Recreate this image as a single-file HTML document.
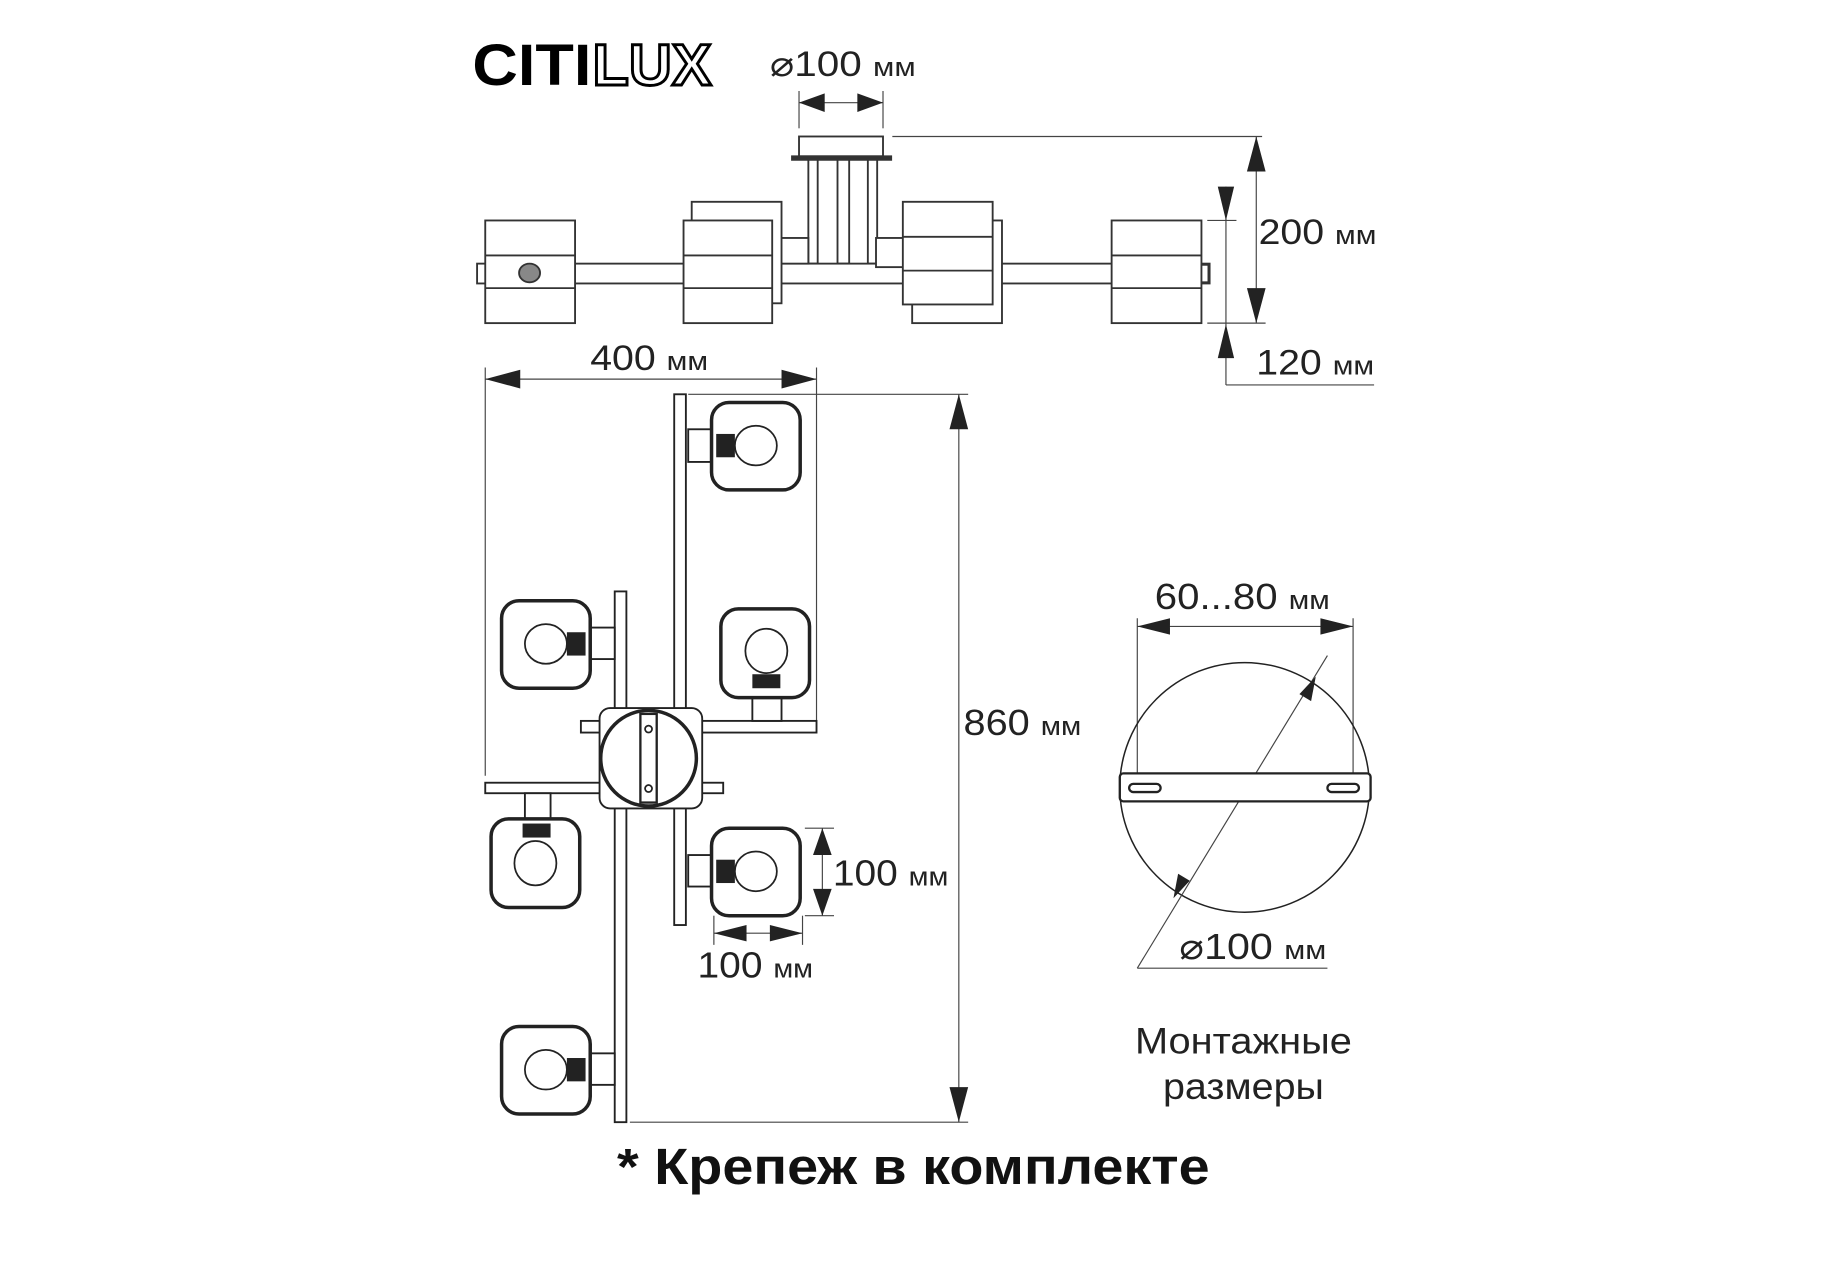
<!DOCTYPE html>
<html><head><meta charset="utf-8"><style>
html,body{margin:0;padding:0;background:#fff;}
svg{display:block;}
text{font-family:"Liberation Sans",sans-serif;fill:#222;}
</style></head><body>
<svg width="1829" height="1280" viewBox="0 0 1568 1097.3" preserveAspectRatio="none" xmlns="http://www.w3.org/2000/svg">
<!-- Logo -->
<text x="405" y="73" font-size="50" font-weight="bold" style="fill:#000" textLength="102" lengthAdjust="spacingAndGlyphs">CITI</text>
<text x="508" y="73" font-size="50" font-weight="bold" style="fill:#fff;stroke:#000;stroke-width:2.5" textLength="102" lengthAdjust="spacingAndGlyphs">LUX</text>

<!-- top dim 100 -->
<text x="660" y="65" font-size="30" textLength="125" lengthAdjust="spacingAndGlyphs">⌀100 <tspan font-size="23">мм</tspan></text>
<g stroke="#444" stroke-width="1" fill="none">
<line x1="685" y1="78" x2="685" y2="110"/><line x1="757" y1="78" x2="757" y2="110"/>
<line x1="685" y1="88" x2="757" y2="88"/>
</g>
<polygon points="685,88 707,80 707,96" fill="#222"/><polygon points="757,88 735,80 735,96" fill="#222"/>

<!-- side view -->
<g stroke="#333" stroke-width="1.6" fill="#fff">
<rect x="685" y="117" width="72" height="17"/>
<rect x="679" y="134" width="85" height="3" fill="#333"/>
<rect x="693" y="137" width="8" height="89"/><rect x="744" y="137" width="8" height="89"/>
<rect x="718" y="137" width="10" height="89"/>
<rect x="409" y="226" width="628" height="17"/>
<rect x="662" y="204" width="31" height="22"/><rect x="751" y="204" width="24" height="25"/>
<rect x="593" y="173" width="77" height="87"/>
<rect x="782" y="189" width="77" height="88"/>
<rect x="416" y="189" width="77" height="88"/><line x1="416" y1="219" x2="493" y2="219"/><line x1="416" y1="247" x2="493" y2="247"/>
<rect x="586" y="189" width="76" height="88"/><line x1="586" y1="219" x2="662" y2="219"/><line x1="586" y1="247" x2="662" y2="247"/>
<rect x="774" y="173" width="77" height="88"/><line x1="774" y1="203" x2="851" y2="203"/><line x1="774" y1="232" x2="851" y2="232"/>
<rect x="953" y="189" width="77" height="88"/><line x1="953" y1="219" x2="1030" y2="219"/><line x1="953" y1="247" x2="1030" y2="247"/>
<rect x="1030" y="227" width="6" height="15"/>
<ellipse cx="454" cy="234" rx="9" ry="8" fill="#888"/>
</g>

<!-- 200 / 120 dims -->
<g stroke="#444" stroke-width="1" fill="none">
<line x1="765" y1="117" x2="1082" y2="117"/>
<line x1="1077" y1="117" x2="1077" y2="277"/>
<line x1="1035" y1="189" x2="1060" y2="189"/><line x1="1035" y1="277" x2="1085" y2="277"/>
<line x1="1051" y1="160" x2="1051" y2="330"/><line x1="1051" y1="330" x2="1178" y2="330"/>
</g>
<polygon points="1077,117 1069,147 1085,147" fill="#222"/><polygon points="1077,277 1069,247 1085,247" fill="#222"/>
<polygon points="1051,189 1044,160 1058,160" fill="#222"/><polygon points="1051,278 1044,307 1058,307" fill="#222"/>
<text x="1079" y="209" font-size="30" textLength="101" lengthAdjust="spacingAndGlyphs">200 <tspan font-size="23">мм</tspan></text>
<text x="1077" y="321" font-size="30" textLength="101" lengthAdjust="spacingAndGlyphs">120 <tspan font-size="23">мм</tspan></text>

<!-- 400 dim -->
<text x="506" y="317" font-size="30" textLength="101" lengthAdjust="spacingAndGlyphs">400 <tspan font-size="23">мм</tspan></text>
<g stroke="#444" stroke-width="1" fill="none">
<line x1="416" y1="325" x2="700" y2="325"/>
<line x1="416" y1="315" x2="416" y2="665"/><line x1="700" y1="315" x2="700" y2="625"/>
</g>
<polygon points="416,325 446,317 446,333" fill="#222"/><polygon points="700,325 670,317 670,333" fill="#222"/>

<!-- top view -->
<g stroke="#222" stroke-width="1.6" fill="#fff">
<rect x="578" y="338" width="10" height="455"/>
<rect x="527" y="507" width="10" height="455"/>
<rect x="498" y="618" width="202" height="10"/>
<rect x="416" y="671" width="204" height="9"/>
<rect x="590" y="368" width="22" height="28"/>
<rect x="505" y="538" width="22" height="27"/>
<rect x="645" y="598" width="25" height="20"/>
<rect x="450" y="680" width="22" height="23"/>
<rect x="590" y="733" width="22" height="27"/>
<rect x="505" y="903" width="22" height="27"/>
<rect x="514" y="607" width="88" height="86" rx="9"/>
</g>
<g stroke="#222" stroke-width="3" fill="#fff">
<rect x="610" y="345" width="76" height="75" rx="15"/>
<rect x="430" y="515" width="76" height="75" rx="15"/>
<rect x="618" y="522" width="76" height="76" rx="15"/>
<rect x="421" y="702" width="76" height="76" rx="15"/>
<rect x="610" y="710" width="76" height="75" rx="15"/>
<rect x="430" y="880" width="76" height="75" rx="15"/>
<circle cx="556" cy="650" r="41"/>
</g>
<g stroke="#222" stroke-width="1.5" fill="#fff">
<ellipse cx="648" cy="382" rx="18" ry="17"/><ellipse cx="468" cy="552" rx="18" ry="17"/>
<ellipse cx="657" cy="558" rx="18" ry="19"/><ellipse cx="459" cy="740" rx="18" ry="19"/>
<ellipse cx="648" cy="747" rx="18" ry="17"/><ellipse cx="468" cy="917" rx="18" ry="17"/>
<rect x="549" y="612" width="14" height="76" stroke-width="2"/>
<circle cx="556" cy="625" r="3"/><circle cx="556" cy="676" r="3"/>
</g>
<g fill="#222">
<rect x="614" y="372" width="16" height="20"/><rect x="486" y="542" width="16" height="20"/>
<rect x="645" y="578" width="24" height="12"/><rect x="448" y="706" width="24" height="12"/>
<rect x="614" y="737" width="16" height="20"/><rect x="486" y="907" width="16" height="20"/>
</g>

<!-- 100 dims -->
<g stroke="#444" stroke-width="1" fill="none">
<line x1="690" y1="710" x2="715" y2="710"/><line x1="690" y1="785" x2="715" y2="785"/>
<line x1="705" y1="710" x2="705" y2="785"/>
<line x1="612" y1="785" x2="612" y2="810"/><line x1="688" y1="785" x2="688" y2="810"/>
<line x1="612" y1="800" x2="688" y2="800"/>
</g>
<polygon points="705,710 697,733 713,733" fill="#222"/><polygon points="705,785 697,762 713,762" fill="#222"/>
<polygon points="612,800 640,793 640,807" fill="#222"/><polygon points="688,800 660,793 660,807" fill="#222"/>
<text x="714" y="759" font-size="31" textLength="99" lengthAdjust="spacingAndGlyphs">100 <tspan font-size="23">мм</tspan></text>
<text x="598" y="838" font-size="31" textLength="99" lengthAdjust="spacingAndGlyphs">100 <tspan font-size="23">мм</tspan></text>

<!-- 860 -->
<g stroke="#444" stroke-width="1" fill="none">
<line x1="590" y1="338" x2="830" y2="338"/><line x1="540" y1="962" x2="830" y2="962"/>
<line x1="822" y1="338" x2="822" y2="962"/>
</g>
<polygon points="822,338 814,368 830,368" fill="#222"/><polygon points="822,962 814,932 830,932" fill="#222"/>
<text x="826" y="630" font-size="31" textLength="101" lengthAdjust="spacingAndGlyphs">860 <tspan font-size="23">мм</tspan></text>

<!-- mounting -->
<text x="990" y="522" font-size="31" textLength="150" lengthAdjust="spacingAndGlyphs">60...80 <tspan font-size="23">мм</tspan></text>
<g stroke="#444" stroke-width="1" fill="none">
<line x1="975" y1="537" x2="1160" y2="537"/>
<line x1="975" y1="530" x2="975" y2="665"/><line x1="1160" y1="530" x2="1160" y2="665"/>
<circle cx="1067" cy="675" r="107" stroke="#222" stroke-width="1.3"/>
<line x1="1138" y1="562" x2="975" y2="830"/><line x1="975" y1="830" x2="1138" y2="830"/>
</g>
<polygon points="975,537 1003,530 1003,544" fill="#222"/><polygon points="1160,537 1132,530 1132,544" fill="#222"/>
<polygon points="1128,580 1114,595 1124,601" fill="#222"/><polygon points="1006,770 1020,755 1010,749" fill="#222"/>
<g stroke="#222" stroke-width="2" fill="#fff">
<rect x="960" y="663" width="215" height="24" rx="3"/>
<rect x="968" y="672" width="27" height="7" rx="3.5"/>
<rect x="1138" y="672" width="27" height="7" rx="3.5"/>
</g>
<text x="1011" y="822" font-size="31" textLength="126" lengthAdjust="spacingAndGlyphs">⌀100 <tspan font-size="23">мм</tspan></text>
<text x="973" y="903" font-size="32" textLength="186" lengthAdjust="spacingAndGlyphs">Монтажные</text>
<text x="997" y="942" font-size="32" textLength="138" lengthAdjust="spacingAndGlyphs">размеры</text>

<text x="529" y="1015" font-size="44" font-weight="bold" style="fill:#111" textLength="508" lengthAdjust="spacingAndGlyphs">* Крепеж в комплекте</text>
</svg>
</body></html>
